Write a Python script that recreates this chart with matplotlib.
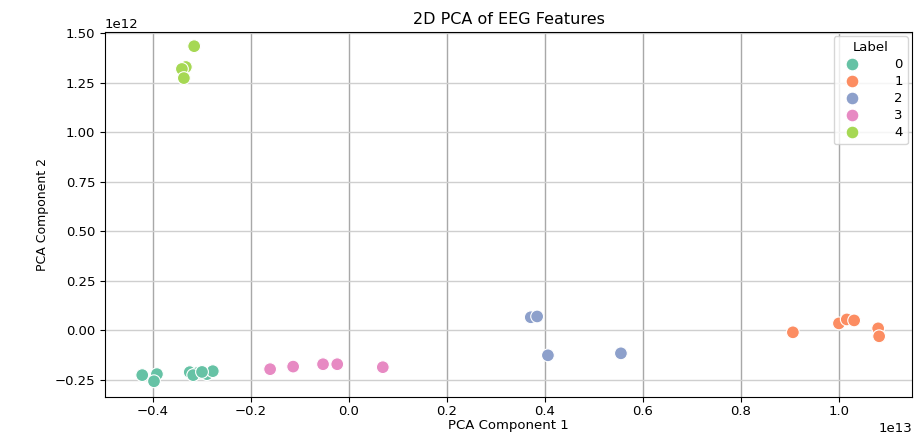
import matplotlib
matplotlib.use("Agg")
import matplotlib.pyplot as plt
import numpy as np
import pandas as pd
import seaborn as sns

# PCA coordinates (x in 1e13, y in 1e12)
label_0_x = [-0.422, -0.392, -0.398, -0.325, -0.310, -0.290, -0.278, -0.318, -0.300]
label_0_y = [-0.226, -0.221, -0.257, -0.211, -0.216, -0.221, -0.206, -0.226, -0.210]
label_1_x = [0.906, 1.000, 1.016, 1.031, 1.080, 1.082]
label_1_y = [-0.010, 0.035, 0.055, 0.050, 0.010, -0.030]
label_2_x = [0.371, 0.384, 0.406, 0.555]
label_2_y = [0.066, 0.070, -0.126, -0.116]
label_3_x = [-0.161, -0.114, -0.053, -0.024, 0.069]
label_3_y = [-0.196, -0.183, -0.171, -0.171, -0.186]
label_4_x = [-0.316, -0.333, -0.341, -0.337]
label_4_y = [1.434, 1.329, 1.319, 1.273]

xs = [label_0_x, label_1_x, label_2_x, label_3_x, label_4_x]
ys = [label_0_y, label_1_y, label_2_y, label_3_y, label_4_y]

rows = []
for lab, (xx, yy) in enumerate(zip(xs, ys)):
    for a, b in zip(xx, yy):
        rows.append((a * 1e13, b * 1e12, lab))
df = pd.DataFrame(rows, columns=["PC1", "PC2", "Label"])

fig = plt.figure(figsize=(9.17, 4.34), dpi=100)
ax = fig.add_axes([0.1145, 0.085, 0.88, 0.841])
sns.scatterplot(data=df, x="PC1", y="PC2", hue="Label", palette="Set2",
                s=85, edgecolor="white", linewidth=0.8, ax=ax)

ax.set_xlim(-0.498e13, 1.149e13)
ax.set_ylim(-0.337e12, 1.505e12)
ax.set_xticks(np.arange(-0.4, 1.01, 0.2) * 1e13)
ax.set_yticks(np.arange(-0.25, 1.51, 0.25) * 1e12)
ax.tick_params(axis="both", labelsize=9.5)
ax.tick_params(axis="x", pad=2)
ax.xaxis.get_offset_text().set_fontsize(9.5)
ax.yaxis.get_offset_text().set_fontsize(9.5)
ax.grid(True, axis="x", color="#a8a8a8", linewidth=1.0)
ax.grid(True, axis="y", color="#cfcfcf", linewidth=1.0)
ax.set_axisbelow(True)

ax.set_title("2D PCA of EEG Features", fontsize=11.5)
ax.set_xlabel("PCA Component 1", fontsize=9.5, labelpad=1)
ax.set_ylabel("PCA Component 2", fontsize=9)
ax.legend(title="Label", loc="upper right", fontsize=9.5, title_fontsize=9.5,
          labelspacing=0.3, handletextpad=2.2, borderaxespad=0.3)

fig.savefig("out.png", dpi=100)
